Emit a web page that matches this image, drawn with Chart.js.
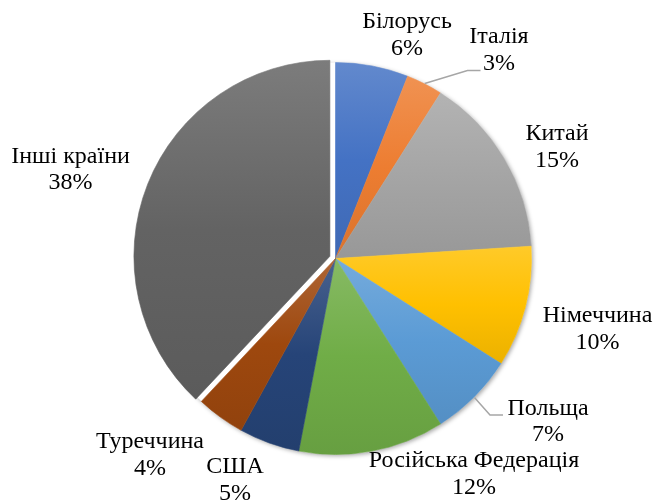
<!DOCTYPE html>
<html>
<head>
<meta charset="utf-8">
<script src="https://cdn.jsdelivr.net/npm/chart.js@4.4.0/dist/chart.umd.min.js"></script>
<style>
    html, body { margin: 0; padding: 0; background: #fff; }
    #wrap { width: 655px; height: 502px; position: relative; }
</style>
</head>
<body>
<div id="wrap"><canvas id="grafik"></canvas></div>
<script>
// Дані діаграми
const kraini = ['Білорусь', 'Італія', 'Китай', 'Німеччина', 'Польща', 'Російська Федерація', 'США', 'Туреччина', 'Інші країни'];
const chastky = [6, 3, 15, 10, 7, 12, 5, 4, 38];

// Базові кольори секторів (стиль Office)
const kolory = ['#4472C4', '#ED7D31', '#A5A5A5', '#FFC000', '#5B9BD5', '#70AD47', '#264478', '#9E480E', '#636363'];
// Винесений сектор (Інші країни), у пікселях
const vynos = [0, 0, 0, 0, 0, 0, 0, 0, 6];

// Розміщення підписів відносно центру діаграми (лише оформлення)
const pidpysy = [[71.5, -223.5], [163.5, -208.5], [221.5, -111.5], [262, 70.5], [212.5, 163], [138.5, 215.5], [-100.5, 221.5], [-185.5, 196.5], [-265, -89]];
// Виноски для малих секторів: точка згину і кінець (відносно центру)
const vynosky = {
    1: [[132, -188], [145, -188]],
    4: [[154.5, 156.5], [167.5, 156.5]]
};

const RADIUS = 196;
const SHRYFT = '24px "Liberation Serif"';
const KROK = 26.5; // відстань між рядками підпису

function zmishaty(hex, cil, t) {
    const n = parseInt(hex.slice(1), 16);
    const r = (n >> 16) & 255, g = (n >> 8) & 255, b = n & 255;
    const m = v => Math.round(v + (cil - v) * t);
    return `rgb(${m(r)},${m(g)},${m(b)})`;
}

// Кути сектора (від верху, за годинниковою стрілкою)
function kutySektora(i) {
    const total = chastky.reduce((a, b) => a + b, 0);
    let poch = 0;
    for (let k = 0; k < i; k++) poch += chastky[k];
    return [poch / total * 2 * Math.PI, (poch + chastky[i]) / total * 2 * Math.PI];
}

// Вертикальний градієнт для кожного сектора окремо
function gradientSektora(context) {
    const chart = context.chart;
    const area = chart.chartArea;
    const i = context.dataIndex;
    if (!area || i === undefined) return kolory[i] || '#999';
    const cy = (area.top + area.bottom) / 2;
    const [a0, a1] = kutySektora(i);
    const mid = (a0 + a1) / 2;
    const oy = -vynos[i] * Math.cos(mid);
    const ys = [0, -RADIUS * Math.cos(a0), -RADIUS * Math.cos(a1)];
    if (a0 <= 0.0001 || a1 >= 2 * Math.PI - 0.0001) ys.push(-RADIUS);
    if (a0 <= Math.PI && a1 >= Math.PI) ys.push(RADIUS);
    const y0 = cy + oy + Math.min(...ys);
    const y1 = cy + oy + Math.max(...ys);
    const g = chart.ctx.createLinearGradient(0, y0, 0, y1);
    g.addColorStop(0, zmishaty(kolory[i], 255, 0.16));
    g.addColorStop(0.5, kolory[i]);
    g.addColorStop(1, zmishaty(kolory[i], 0, 0.08));
    return g;
}

// Зсув винесеного сектора (зсуваємо центр дуги, радіус не змінюється)
const vynosPlugin = {
    id: 'vynos',
    afterDatasetsUpdate(chart) {
        const meta = chart.getDatasetMeta(0);
        meta.data.forEach((arc, i) => {
            if (!vynos[i]) return;
            const [a0, a1] = kutySektora(i);
            const mid = (a0 + a1) / 2;
            arc.x += vynos[i] * Math.sin(mid);
            arc.y -= vynos[i] * Math.cos(mid);
        });
    }
};

// Легка тінь під колом
const tinPlugin = {
    id: 'tin',
    beforeDatasetsDraw(chart) {
        const a = chart.chartArea;
        const ctx = chart.ctx;
        ctx.save();
        ctx.shadowColor = 'rgba(0,0,0,0.35)';
        ctx.shadowBlur = 4;
        ctx.shadowOffsetX = 1.5;
        ctx.shadowOffsetY = 1.5;
        ctx.fillStyle = '#fff';
        ctx.beginPath();
        ctx.arc((a.left + a.right) / 2, (a.top + a.bottom) / 2, RADIUS, 0, 2 * Math.PI);
        ctx.fill();
        ctx.restore();
    }
};

// Підписи з відсотками та виноски
const pidpysyPlugin = {
    id: 'pidpysy',
    afterDatasetsDraw(chart) {
        const ctx = chart.ctx;
        const a = chart.chartArea;
        const cx = (a.left + a.right) / 2, cy = (a.top + a.bottom) / 2;
        ctx.save();
        // виноски
        ctx.strokeStyle = '#a6a6a6';
        ctx.lineWidth = 1.5;
        Object.keys(vynosky).forEach(k => {
            const i = +k;
            const [a0, a1] = kutySektora(i);
            const mid = (a0 + a1) / 2;
            const sx = cx + (RADIUS + 0.5) * Math.sin(mid);
            const sy = cy - (RADIUS + 0.5) * Math.cos(mid);
            ctx.beginPath();
            ctx.moveTo(sx, sy);
            vynosky[k].forEach(p => ctx.lineTo(cx + p[0], cy + p[1]));
            ctx.stroke();
        });
        // текст
        ctx.fillStyle = '#000';
        ctx.font = SHRYFT;
        ctx.textAlign = 'center';
        ctx.textBaseline = 'middle';
        kraini.forEach((nazva, i) => {
            const x = cx + pidpysy[i][0];
            const y = cy + pidpysy[i][1];
            ctx.fillText(nazva, x, y - KROK / 2);
            ctx.fillText(chastky[i] + '%', x, y + KROK / 2);
        });
        ctx.restore();
    }
};

const grafik = new Chart(document.getElementById('grafik'), {
    type: 'pie',
    data: {
        labels: kraini,
        datasets: [{
            data: chastky,
            backgroundColor: gradientSektora,
            borderColor: gradientSektora,
            borderWidth: 0.6,
            radius: RADIUS
        }]
    },
    options: {
        responsive: true,
        maintainAspectRatio: false,
        animation: false,
        layout: { padding: { left: 16, top: 15, right: 0, bottom: 0 } },
        plugins: {
            legend: { display: false },
            tooltip: { enabled: false },
            title: { display: false }
        }
    },
    plugins: [vynosPlugin, tinPlugin, pidpysyPlugin]
});

// Перемалювати, коли шрифти готові
if (document.fonts) {
    document.fonts.load(SHRYFT).then(() => grafik.draw());
}
</script>
</body>
</html>
